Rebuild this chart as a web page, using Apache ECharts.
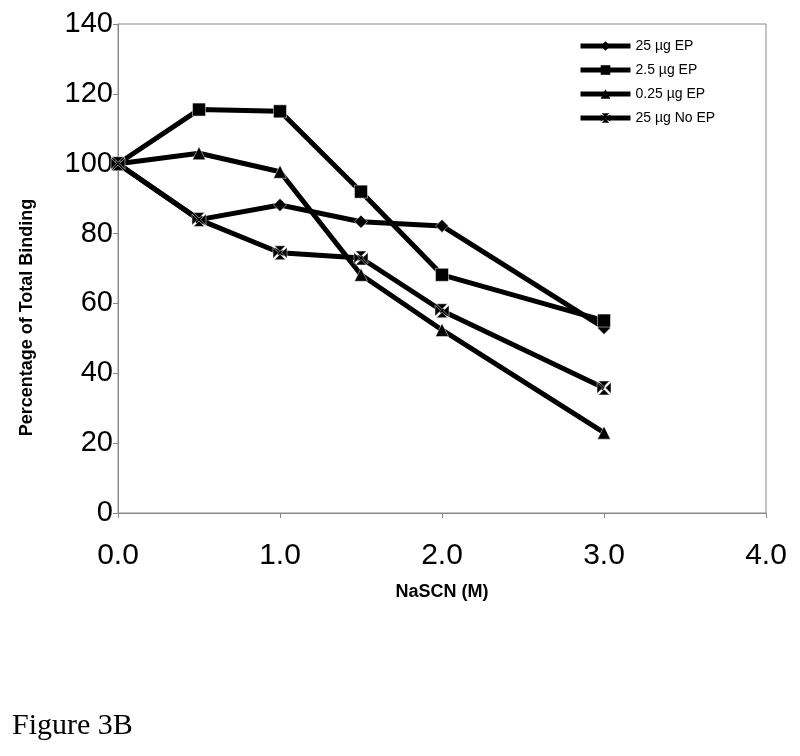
<!DOCTYPE html>
<html>
<head>
<meta charset="utf-8">
<script src="https://cdn.jsdelivr.net/npm/echarts@6/dist/echarts.min.js"></script>
<style>
html,body{margin:0;padding:0;background:#fff;}
#chart{width:800px;height:756px;}
</style>
</head>
<body>
<div id="chart"></div>
<script>
const xValues = [0, 0.5, 1.0, 1.5, 2.0, 3.0];
const seriesNames = ['25 µg EP', '2.5 µg EP', '0.25 µg EP', '25 µg No EP'];
const ep25 = [100, 84, 88.2, 83.4, 82.2, 53];
const ep2_5 = [100, 115.5, 115, 92, 68.2, 55.1];
const ep0_25 = [100, 103, 97.7, 68.2, 52.4, 23];
const noEp25 = [100, 84, 74.5, 73, 57.9, 35.8];
const yTicks = [0, 20, 40, 60, 80, 100, 120, 140];
const xTicks = [0, 1, 2, 3, 4];

const xSymbol = 'path://M1,0L9,0L5,4Z M1,10L9,10L5,6Z M0,1L0,9L4,5Z M10,1L10,9L6,5Z';

function pairs(vals) { return xValues.map((x, i) => [x, vals[i]]); }

const symbols = ['diamond', 'rect', 'triangle', xSymbol];
const sizes = [13, 13, 13, 14];
const allData = [ep25, ep2_5, ep0_25, noEp25];

const chart = echarts.init(document.getElementById('chart'));
chart.setOption({
  animation: false,
  backgroundColor: '#fff',
  grid: { left: 118, right: 34, top: 24, bottom: 243, show: true, borderColor: '#888', borderWidth: 1 },
  legend: {
    orient: 'vertical', left: 573, top: 34, itemWidth: 50, itemHeight: 12, itemGap: 10,
    lineStyle: { width: 5, color: '#000' },
    itemStyle: { color: '#000', borderWidth: 0 },
    textStyle: { fontFamily: 'Liberation Sans, Arial', fontSize: 14, color: '#000' },
    data: seriesNames
  },
  xAxis: {
    type: 'value', min: xTicks[0], max: xTicks[xTicks.length - 1], interval: 1,
    name: 'NaSCN (M)', nameLocation: 'middle', nameGap: 70,
    nameTextStyle: { fontFamily: 'Liberation Sans, Arial', fontWeight: 'bold', fontSize: 18, color: '#000' },
    axisLine: { lineStyle: { color: '#888', width: 1 } },
    axisTick: { show: true, inside: false, length: 5, lineStyle: { color: '#888' } },
    axisLabel: { formatter: v => v.toFixed(1), fontFamily: 'Liberation Sans, Arial', fontSize: 30, color: '#000', margin: 28 },
    splitLine: { show: false }
  },
  yAxis: {
    type: 'value', min: yTicks[0], max: yTicks[yTicks.length - 1], interval: 20,
    name: 'Percentage of Total Binding', nameLocation: 'middle', nameGap: 82,
    nameTextStyle: { fontFamily: 'Liberation Sans, Arial', fontWeight: 'bold', fontSize: 18, color: '#000', padding: [0, 98, 0, 0] },
    axisLine: { show: true, lineStyle: { color: '#888', width: 1 } },
    axisTick: { show: true, inside: false, length: 5, lineStyle: { color: '#888' } },
    axisLabel: { fontFamily: 'Liberation Sans, Arial', fontSize: 29, color: '#000', margin: 5 },
    splitLine: { show: false }
  },
  series: seriesNames.map((n, i) => ({
    name: n, type: 'line', data: pairs(allData[i]),
    symbol: symbols[i], symbolSize: sizes[i], showSymbol: true,
    lineStyle: { color: '#000', width: 5 },
    itemStyle: { color: '#000', borderColor: '#fff', borderWidth: 0.5 },
    z: 2 + i
  })),
  graphic: [{
    type: 'text', left: 12, top: 711,
    style: { text: 'Figure 3B', fontFamily: 'Liberation Serif, Times New Roman', fontSize: 30, fill: '#000' }
  }]
});
</script>
</body>
</html>
